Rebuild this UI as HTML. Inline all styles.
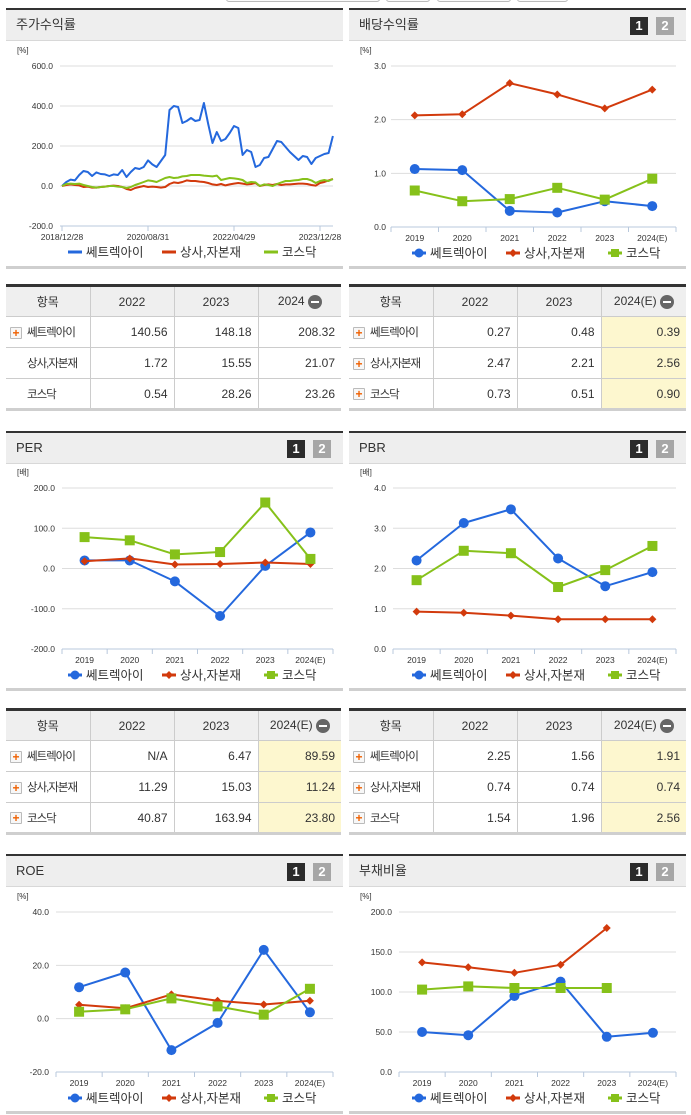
<!DOCTYPE html>
<html><head><meta charset="utf-8">
<style>
*{margin:0;padding:0;box-sizing:border-box}
body{width:691px;height:1115px;background:#fff;position:relative;overflow:hidden;font-family:"Liberation Sans","Noto Sans CJK KR","NanumGothic",sans-serif;color:#333}
.panel{position:absolute;border-top:2px solid #333}
.hdr{height:31px;background:#eeeeee;border-bottom:1px solid #d8d8d8;font-size:13px;line-height:30px;padding-left:10px;color:#333;position:relative}
.badge{position:absolute;top:7px;width:18px;height:18px;font-size:13px;font-weight:bold;line-height:18px;text-align:center;color:#fff}
.b1{background:#2b2b2b}.b2{background:#a6a6a6}
.bottomline{position:absolute;left:0;right:0;height:3px;background:#cfcfcf}
svg{position:absolute;left:0}
table{position:absolute;border-collapse:collapse;font-size:12px;border-top:3px solid #333;border-bottom:3px solid #cfcfcf;table-layout:fixed}
tr{height:31px}
td,th{height:31px;border:1px solid #cccccc;border-top:none;text-align:right;padding-right:6px;font-weight:normal;color:#333;white-space:nowrap;overflow:hidden}
table tr td:first-child,table tr th:first-child{border-left:none;text-align:left;padding-left:4px;font-size:11.5px;letter-spacing:-1px}
table tr td:last-child,table tr th:last-child{border-right:none}
th{background:#efefef;text-align:center!important;padding-right:0}
th.first{text-align:center!important;padding-left:0!important;font-size:12px!important;letter-spacing:0!important}
.hl{background:#fdf7cf}
.plus{display:inline-block;width:12px;height:12px;border:1px solid #bbb;background:#f7f7f7;color:#f06000;font-size:12px;line-height:10px;text-align:center;font-weight:bold;vertical-align:middle;margin-right:5px;border-radius:1px;letter-spacing:0}
.minus{display:inline-block;width:14px;height:14px;border-radius:7px;background:#666;vertical-align:middle;position:relative;margin-left:3px}
.minus:after{content:"";position:absolute;left:3px;top:6px;width:8px;height:2px;background:#fff}
.nm{padding-left:21px!important}
.topbtn{position:absolute;top:-6px;height:8px;border:1px solid #bbb;border-radius:3px;background:#fafafa}
</style></head><body>
<div class="topbtn" style="left:226px;width:154px"></div>
<div class="topbtn" style="left:386px;width:44px"></div>
<div class="topbtn" style="left:437px;width:74px"></div>
<div class="topbtn" style="left:517px;width:51px"></div>

<div class="panel" style="left:6px;top:8px;width:337px;height:260px">
 <div class="hdr">주가수익률</div>
 <div class="bottomline" style="top:256px"></div>
</div>
<div class="panel" style="left:349px;top:8px;width:337px;height:260px">
 <div class="hdr">배당수익률<span class="badge b1" style="left:281px">1</span><span class="badge b2" style="left:307px">2</span></div>
 <div class="bottomline" style="top:256px"></div>
</div>
<div class="panel" style="left:6px;top:431px;width:337px;height:260px">
 <div class="hdr">PER<span class="badge b1" style="left:281px">1</span><span class="badge b2" style="left:307px">2</span></div>
 <div class="bottomline" style="top:255px"></div>
</div>
<div class="panel" style="left:349px;top:431px;width:337px;height:260px">
 <div class="hdr">PBR<span class="badge b1" style="left:281px">1</span><span class="badge b2" style="left:307px">2</span></div>
 <div class="bottomline" style="top:255px"></div>
</div>
<div class="panel" style="left:6px;top:854px;width:337px;height:261px">
 <div class="hdr">ROE<span class="badge b1" style="left:281px">1</span><span class="badge b2" style="left:307px">2</span></div>
 <div class="bottomline" style="top:255px"></div>
</div>
<div class="panel" style="left:349px;top:854px;width:337px;height:261px">
 <div class="hdr">부채비율<span class="badge b1" style="left:281px">1</span><span class="badge b2" style="left:307px">2</span></div>
 <div class="bottomline" style="top:255px"></div>
</div>

<table style="left:6px;top:284px;width:335px">
<colgroup><col style="width:84px"><col style="width:84px"><col style="width:84px"><col style="width:83px"></colgroup>
<tr><th class="first">항목</th><th>2022</th><th>2023</th><th>2024<span class="minus"></span></th></tr>
<tr><td><span class="plus">+</span>쎄트렉아이</td><td>140.56</td><td>148.18</td><td>208.32</td></tr>
<tr><td class="nm">상사,자본재</td><td>1.72</td><td>15.55</td><td>21.07</td></tr>
<tr><td class="nm">코스닥</td><td>0.54</td><td>28.26</td><td>23.26</td></tr>
</table>
<table style="left:349px;top:284px;width:337px">
<colgroup><col style="width:84px"><col style="width:84px"><col style="width:84px"><col style="width:85px"></colgroup>
<tr><th class="first">항목</th><th>2022</th><th>2023</th><th>2024(E)<span class="minus"></span></th></tr>
<tr><td><span class="plus">+</span>쎄트렉아이</td><td>0.27</td><td>0.48</td><td class="hl">0.39</td></tr>
<tr><td><span class="plus">+</span>상사,자본재</td><td>2.47</td><td>2.21</td><td class="hl">2.56</td></tr>
<tr><td><span class="plus">+</span>코스닥</td><td>0.73</td><td>0.51</td><td class="hl">0.90</td></tr>
</table>
<table style="left:6px;top:708px;width:335px">
<colgroup><col style="width:84px"><col style="width:84px"><col style="width:84px"><col style="width:83px"></colgroup>
<tr><th class="first">항목</th><th>2022</th><th>2023</th><th>2024(E)<span class="minus"></span></th></tr>
<tr><td><span class="plus">+</span>쎄트렉아이</td><td>N/A</td><td>6.47</td><td class="hl">89.59</td></tr>
<tr><td><span class="plus">+</span>상사,자본재</td><td>11.29</td><td>15.03</td><td class="hl">11.24</td></tr>
<tr><td><span class="plus">+</span>코스닥</td><td>40.87</td><td>163.94</td><td class="hl">23.80</td></tr>
</table>
<table style="left:349px;top:708px;width:337px">
<colgroup><col style="width:84px"><col style="width:84px"><col style="width:84px"><col style="width:85px"></colgroup>
<tr><th class="first">항목</th><th>2022</th><th>2023</th><th>2024(E)<span class="minus"></span></th></tr>
<tr><td><span class="plus">+</span>쎄트렉아이</td><td>2.25</td><td>1.56</td><td class="hl">1.91</td></tr>
<tr><td><span class="plus">+</span>상사,자본재</td><td>0.74</td><td>0.74</td><td class="hl">0.74</td></tr>
<tr><td><span class="plus">+</span>코스닥</td><td>1.54</td><td>1.96</td><td class="hl">2.56</td></tr>
</table>

<svg id="s1" style="left:0;top:40px" width="345" height="225"></svg>
<svg id="s2" style="left:345px;top:40px" width="346" height="225"></svg>
<svg id="s3" style="left:0;top:463px" width="345" height="222"></svg>
<svg id="s4" style="left:345px;top:463px" width="346" height="222"></svg>
<svg id="s5" style="left:0;top:886px" width="345" height="222"></svg>
<svg id="s6" style="left:345px;top:886px" width="346" height="222"></svg>

<script>
const seriesNames = ['쎄트렉아이','상사,자본재','코스닥'];
const yearCats = ['2019','2020','2021','2022','2023','2024(E)'];
const retTickLabels = ['2018/12/28','2020/08/31','2022/04/29','2023/12/28'];
const retTickIdx = [0,20,40,60];
const retBlue = [0,20,32,28,55,75,70,50,68,60,58,50,58,55,80,45,70,90,85,95,128,108,95,125,155,380,400,395,315,325,340,325,330,415,310,215,270,225,235,265,300,290,155,180,170,95,105,140,145,185,225,220,195,170,150,130,150,145,110,140,150,160,165,250];
const retRed = [0,5,8,5,3,-5,-3,-8,-8,-5,-3,0,2,0,-5,-15,-20,-10,-5,0,-5,-3,-5,-8,-5,10,18,15,20,28,25,25,22,20,15,8,5,10,3,8,12,15,12,8,10,15,0,5,8,5,10,5,8,8,10,12,12,10,5,2,15,20,28,35];
const retGreen = [0,10,12,10,12,5,0,-5,-8,-5,-3,0,0,-3,-5,-10,-5,5,12,20,28,25,20,30,40,45,40,42,48,50,55,55,55,52,50,48,52,30,35,40,38,35,30,15,20,18,0,8,5,0,10,18,25,25,28,30,35,35,28,15,25,30,25,35];
const retTicks = [600,400,200,0,-200];
const divBlue = [1.08,1.06,0.30,0.27,0.48,0.39];
const divRed = [2.08,2.10,2.68,2.47,2.21,2.56];
const divGreen = [0.68,0.48,0.52,0.73,0.51,0.90];
const divTicks = [3,2,1,0];
const perBlue = [20,20,-32,-118,6.47,89.59];
const perRed = [18,25,10,11.29,15.03,11.24];
const perGreen = [78,70,35,40.87,163.94,23.8];
const perTicks = [200,100,0,-100,-200];
const pbrBlue = [2.2,3.13,3.47,2.25,1.56,1.91];
const pbrRed = [0.93,0.90,0.83,0.74,0.74,0.74];
const pbrGreen = [1.71,2.44,2.38,1.54,1.96,2.56];
const pbrTicks = [4,3,2,1,0];
const roeBlue = [11.8,17.3,-11.8,-1.6,25.8,2.4];
const roeRed = [5.2,3.9,9.1,6.7,5.3,6.7];
const roeGreen = [2.6,3.5,7.6,4.6,1.5,11.2];
const roeTicks = [40,20,0,-20];
const debtBlue = [50,46,95,113,44,49];
const debtRed = [137,131,124,134,180,null];
const debtGreen = [103,107,105,105,105,null];
const debtTicks = [200,150,100,50,0];

const COL = ['#2468dd','#d23a0c','#86c11a'];
const NS='http://www.w3.org/2000/svg';
function mk(svg,tag,attrs,txt){const e=document.createElementNS(NS,tag);for(const k in attrs)e.setAttribute(k,attrs[k]);if(txt!==undefined)e.textContent=txt;svg.appendChild(e);return e;}

function chart(id,o){
  const svg=document.getElementById(id);
  const ymin=o.ticks[o.ticks.length-1], ymax=o.ticks[0];
  const Y=v=>o.yb-(v-ymin)/(ymax-ymin)*(o.yb-o.yt);
  const n=o.n;
  const X=o.X || (i=>o.x0+(i+0.5)*(o.x1-o.x0)/n);
  let t=mk(svg,'text',{x:o.ux,y:o.yt-13,'font-size':8,fill:'#333'},o.unit);
  
  
  o.ticks.forEach(v=>{
    const g=mk(svg,'line',{x1:o.x0,x2:o.x1,y1:Y(v),y2:Y(v),stroke:v===ymin?'#b8c8dc':'#dddddd','stroke-width':1});
    
    
    const l=mk(svg,'text',{x:o.lx,y:Y(v)+3,'font-size':8.5,'text-anchor':'end',fill:'#333'},v.toFixed(1));
    
    
  });
  if(o.xt){o.xt.forEach((xi,k)=>{
      const xx=X(xi);mk(svg,'line',{x1:xx,x2:xx,y1:o.yb,y2:o.yb+5,stroke:'#b8c8dc'});
      const l=mk(svg,'text',{x:xx,y:o.yb+14,'font-size':8.5,'text-anchor':'middle',fill:'#333'},o.xl[k]);
      
      
  });}else{
    for(let i=0;i<=n;i++){const xx=o.x0+i*(o.x1-o.x0)/n;mk(svg,'line',{x1:xx,x2:xx,y1:o.yb,y2:o.yb+5,stroke:'#b8c8dc'});}
    o.cats.forEach((c,i)=>{const l=mk(svg,'text',{x:X(i),y:o.yb+14,'font-size':8.5,'text-anchor':'middle',fill:'#333'},c);
      
      });
  }
  o.series.forEach((s,si)=>{
    let d='';let pen=false;
    s.forEach((v,i)=>{if(v===null){pen=false;return;}d+=(pen?'L':'M')+X(i).toFixed(1)+' '+Y(v).toFixed(1);pen=true;});
    const p=mk(svg,'path',{d:d,fill:'none',stroke:COL[si],'stroke-width':2,'stroke-linejoin':'round'});
    
    
    if(o.markers){s.forEach((v,i)=>{if(v===null)return;const x=X(i),y=Y(v);let m;
      if(si===0)m=mk(svg,'circle',{cx:x,cy:y,r:5,fill:COL[0]});
      else if(si===1)m=mk(svg,'path',{d:`M${x} ${y-4}L${x+4} ${y}L${x} ${y+4}L${x-4} ${y}Z`,fill:COL[1]});
      else m=mk(svg,'rect',{x:x-5,y:y-5,width:10,height:10,fill:COL[2]});
      
      });}
  });
  const lx=o.legx, ly=o.yb+26;
  const widths=[70,78,50];let cx=lx;
  seriesNames.forEach((nm,si)=>{
    mk(svg,'line',{x1:cx,x2:cx+14,y1:ly,y2:ly,stroke:COL[si],'stroke-width':3});
    if(o.markers){if(si===0)mk(svg,'circle',{cx:cx+7,cy:ly,r:4.5,fill:COL[0]});
      else if(si===1)mk(svg,'path',{d:`M${cx+7} ${ly-4}L${cx+11} ${ly}L${cx+7} ${ly+4}L${cx+3} ${ly}Z`,fill:COL[1]});
      else mk(svg,'rect',{x:cx+3,y:ly-4,width:8,height:8,fill:COL[2]});}
    const t=mk(svg,'text',{x:cx+18,y:ly+4.5,'font-size':12.5,fill:'#333'},nm);
    
    
    cx+=18+widths[si]+6;
  });
}
chart('s1',{unit:'[%]',ux:17,ticks:retTicks,yt:26,yb:186,x0:60,x1:333,lx:53,n:retBlue.length,
  X:i=>62+i*(320-62)/60,xt:retTickIdx,xl:retTickLabels,series:[retBlue,retRed,retGreen],markers:false,legx:68});
chart('s2',{unit:'[%]',ux:15,ticks:divTicks,yt:26,yb:187,x0:46,x1:331,lx:41,n:6,cats:yearCats,series:[divBlue,divRed,divGreen],markers:true,legx:67});
chart('s3',{unit:'[배]',ux:17,ticks:perTicks,yt:25,yb:186,x0:62,x1:333,lx:55,n:6,cats:yearCats,series:[perBlue,perRed,perGreen],markers:true,legx:68});
chart('s4',{unit:'[배]',ux:15,ticks:pbrTicks,yt:25,yb:186,x0:48,x1:331,lx:41,n:6,cats:yearCats,series:[pbrBlue,pbrRed,pbrGreen],markers:true,legx:67});
chart('s5',{unit:'[%]',ux:17,ticks:roeTicks,yt:26,yb:186,x0:56,x1:333,lx:49,n:6,cats:yearCats,series:[roeBlue,roeRed,roeGreen],markers:true,legx:68});
chart('s6',{unit:'[%]',ux:15,ticks:debtTicks,yt:26,yb:186,x0:54,x1:331,lx:47,n:6,cats:yearCats,series:[debtBlue,debtRed,debtGreen],markers:true,legx:67});
</script>
</body></html>
